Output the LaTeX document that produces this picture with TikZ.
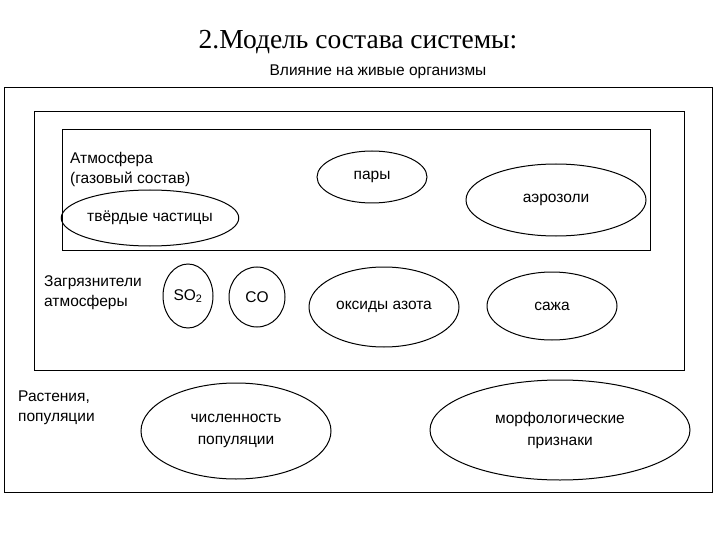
\documentclass[tikz,border=0pt]{standalone}
\usepackage{fontspec}
\usetikzlibrary{shapes.geometric}
\setmainfont{Liberation Sans}
\newfontfamily\serifru{Liberation Serif}
\begin{document}
\begin{tikzpicture}[x=1pt,y=-1pt,
 el/.style={draw,ellipse,line width=1pt,inner sep=0pt,align=center,font=\fontsize{15.5}{22}\selectfont},
 lbl/.style={anchor=west,align=left,font=\fontsize{15.5}{20}\selectfont,inner sep=0pt},
 box/.style={draw,line width=1pt}]
\useasboundingbox (0,0) rectangle (720,540);
\node (title) at (358,42) {\serifru\fontsize{27.5}{30}\selectfont 2.Модель состава системы:};
\node (infl) at (378,72) {\fontsize{15.5}{16}\selectfont Влияние на живые организмы};
\draw[box] (4,88) rectangle (712,492);
\draw[box] (34,112) rectangle (684,370);
\draw[box] (62,130) rectangle (650,250);
\node[lbl] (atm) at (70,169) {Атмосфера\\(газовый состав)};
\node[el,minimum width=160pt,minimum height=56pt] (tv) at (150,218) {твёрдые частицы};
\node[el,minimum width=110pt,minimum height=52pt] (pary) at (372,177) {пары};
\node[el,minimum width=180pt,minimum height=72pt] (aer) at (556,200) {аэрозоли};
\node[lbl] (zagr) at (44,293) {Загрязнители\\атмосферы};
\node[el,minimum width=50pt,minimum height=64pt] (so2) at (188,296) {SO\textsubscript{2}};
\node[el,minimum width=56pt,minimum height=60pt] (co) at (257,297) {CO};
\node[el,minimum width=150pt,minimum height=80pt] (nox) at (384,307) {оксиды азота};
\node[el,minimum width=130pt,minimum height=68pt] (saz) at (552,306) {сажа};
\node[lbl] (rast) at (18,408) {Растения,\\популяции};
\node[el,minimum width=190pt,minimum height=96pt] (chis) at (236,431) {численность\\популяции};
\node[el,minimum width=260pt,minimum height=100pt] (morf) at (560,430) {морфологические\\признаки};
\end{tikzpicture}
\end{document}
